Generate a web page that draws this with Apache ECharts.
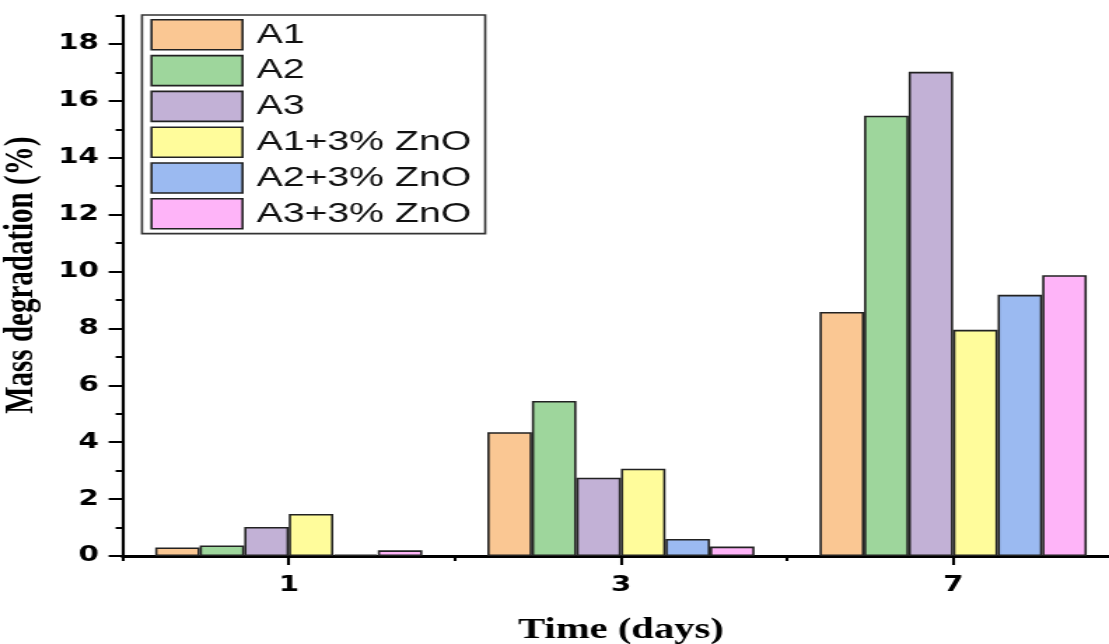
<!DOCTYPE html>
<html>
<head>
<meta charset="utf-8">
<script src="https://cdn.jsdelivr.net/npm/echarts@6/dist/echarts.min.js"></script>
<style>
  html, body { margin: 0; padding: 0; background: #ffffff; overflow: hidden; }
  #wrap { width: 1109px; height: 644px; overflow: hidden; position: relative; }
  /* the chart is laid out narrow and widened horizontally, giving the broad lettering */
  #chart { position: absolute; left: 0; top: 0; width: 792px; height: 644px; transform-origin: 0 0; }
</style>
</head>
<body>
<div id="wrap"><div id="chart"></div></div>
<script>
// Time points (days)
const days = ['1', '3', '7'];

// Mass degradation (%) per sample
const seriesNames = ['A1', 'A2', 'A3', 'A1+3% ZnO', 'A2+3% ZnO', 'A3+3% ZnO'];
const A1 = [0.30, 4.35, 8.58];
const A2 = [0.37, 5.45, 15.48];
const A3 = [1.02, 2.75, 17.02];
const A1_ZnO = [1.48, 3.07, 7.95];
const A2_ZnO = [0.05, 0.60, 9.18];
const A3_ZnO = [0.20, 0.33, 9.87];
const seriesValues = [A1, A2, A3, A1_ZnO, A2_ZnO, A3_ZnO];

// y-axis ticks
const yMajorTicks = [0, 2, 4, 6, 8, 10, 12, 14, 16, 18];
const yMinorTicks = [1, 3, 5, 7, 9, 11, 13, 15, 17, 19];

const fillColors = ['#FAC793', '#9ED69C', '#C2B1D6', '#FFFC9B', '#9BBAF1', '#FEB4F8'];

const chartEl = document.getElementById('chart');
const SX = 1109 / 792;
chartEl.style.transform = 'scaleX(' + SX + ')';

const chart = echarts.init(chartEl, null, { renderer: 'canvas' });

const tickFont = { fontFamily: 'DejaVu Sans', fontWeight: 'bold', fontSize: 21, color: '#000' };
const titleFont = { fontFamily: 'Liberation Serif', fontWeight: 'bold', fontSize: 29, color: '#000' };

const option = {
  animation: false,
  backgroundColor: '#ffffff',
  grid: { left: 87.6, right: -7.3, top: 15.5, bottom: 88, containLabel: false, outerBoundsMode: 'none' },
  legend: {
    orient: 'vertical',
    left: 101.4,
    top: 15,
    padding: [4, 10, 4, 6],
    itemWidth: 65,
    itemHeight: 30,
    itemGap: 4.2,
    icon: 'rect',
    borderColor: '#333',
    borderWidth: 1.6,
    backgroundColor: '#fff',
    itemStyle: { borderColor: '#222', borderWidth: 1.6 },
    textStyle: { fontFamily: 'Liberation Sans', fontSize: 28, color: '#111', padding: [0, 0, 0, 5] },
    data: seriesNames
  },
  xAxis: [
    {
      type: 'category',
      data: days,
      position: 'bottom',
      name: 'Time (days)',
      nameLocation: 'middle',
      nameGap: 60,
      nameTextStyle: titleFont,
      axisLine: { show: true, lineStyle: { color: '#000', width: 3 } },
      axisTick: { show: true, alignWithLabel: true, length: 9, lineStyle: { color: '#000', width: 2.1 } },
      axisLabel: Object.assign({ margin: 19 }, tickFont),
      splitLine: { show: false }
    },
    {
      type: 'category',
      data: days,
      position: 'bottom',
      axisLine: { show: false },
      axisTick: { show: true, alignWithLabel: false, length: 5, lineStyle: { color: '#000', width: 2.1 } },
      axisLabel: { show: false },
      splitLine: { show: false }
    }
  ],
  yAxis: [
    {
      type: 'value',
      min: 0,
      max: 19,
      position: 'left',
      name: 'Mass degradation (%)',
      nameLocation: 'middle',
      nameGap: 54,
      nameTextStyle: Object.assign({ padding: [0, 0, 0, 21] }, titleFont),
      axisLine: { show: true, lineStyle: { color: '#000', width: 2.15 } },
      axisTick: { show: true, length: 10, customValues: yMajorTicks, lineStyle: { color: '#000', width: 2 } },
      axisLabel: Object.assign({ margin: 17, customValues: yMajorTicks }, tickFont),
      splitLine: { show: false }
    },
    {
      type: 'value',
      min: 0,
      max: 19,
      position: 'left',
      axisLine: { show: false },
      axisTick: { show: true, length: 5, customValues: yMinorTicks, lineStyle: { color: '#000', width: 2 } },
      axisLabel: { show: false },
      splitLine: { show: false }
    }
  ],
  series: seriesNames.map(function (name, i) {
    return {
      name: name,
      type: 'bar',
      xAxisIndex: 0,
      yAxisIndex: 0,
      data: seriesValues[i],
      barGap: '0%',
      barWidth: 31.8,
      itemStyle: { color: fillColors[i], borderColor: '#222', borderWidth: 1.6 }
    };
  })
};

chart.setOption(option);
</script>
</body>
</html>
